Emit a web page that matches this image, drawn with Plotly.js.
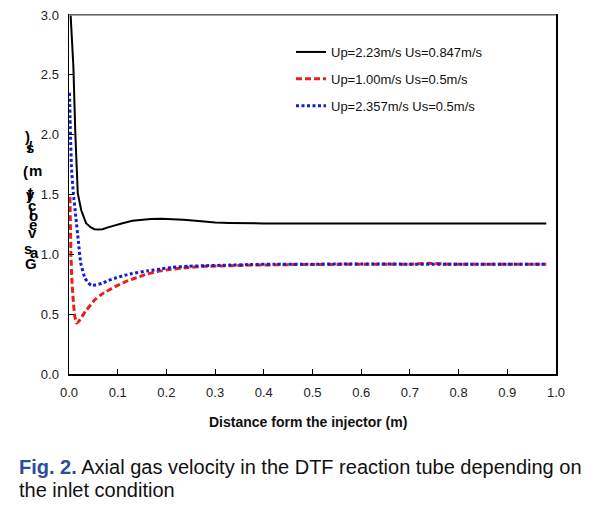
<!DOCTYPE html>
<html>
<head>
<meta charset="utf-8">
<script src="https://cdn.plot.ly/plotly-3.0.1.min.js"></script>
<style>html,body{margin:0;padding:0;background:#fff;}#chart{width:599px;height:509px;}</style>
</head>
<body>
<div id="chart"></div>
<script>
// Series: Up=2.23 m/s, Us=0.847 m/s
const xA = [0.002,0.004,0.006,0.009,0.013,0.018,0.025,0.035,0.045,0.052,0.06,0.069,0.08,0.096,0.11,0.13,0.15,0.168,0.19,0.212,0.235,0.26,0.28,0.30,0.33,0.36,0.40,0.5,0.6,0.7,0.8,0.9,0.98];
const yA = [3.1,2.95,2.80,2.57,2.01,1.51,1.37,1.26,1.225,1.21,1.208,1.21,1.225,1.245,1.26,1.28,1.29,1.295,1.297,1.295,1.29,1.28,1.272,1.265,1.262,1.26,1.258,1.258,1.258,1.258,1.258,1.258,1.258];
// Series: Up=1.00 m/s, Us=0.5 m/s
const xB = [0.002,0.003,0.004,0.006,0.009,0.012,0.016,0.022,0.033,0.043,0.053,0.065,0.081,0.097,0.115,0.135,0.156,0.18,0.21,0.245,0.28,0.33,0.376,0.42,0.46,0.5,0.55,0.6,0.65,0.7,0.74,0.78,0.82,0.86,0.9,0.94,0.98];
const yB = [1.48,1.2,1.0,0.78,0.6,0.48,0.425,0.45,0.52,0.57,0.62,0.66,0.70,0.735,0.77,0.80,0.83,0.855,0.875,0.89,0.90,0.905,0.91,0.912,0.914,0.915,0.916,0.917,0.917,0.918,0.925,0.918,0.917,0.917,0.918,0.918,0.918];
// Series: Up=2.357 m/s, Us=0.5 m/s
const xC = [0.001,0.003,0.005,0.009,0.014,0.019,0.024,0.033,0.04,0.046,0.055,0.067,0.08,0.094,0.11,0.13,0.163,0.19,0.21,0.245,0.28,0.33,0.376,0.42,0.5,0.6,0.7,0.8,0.9,0.98];
const yC = [2.35,2.01,1.73,1.51,1.31,1.12,0.93,0.80,0.76,0.74,0.745,0.757,0.78,0.80,0.82,0.84,0.863,0.878,0.89,0.90,0.905,0.91,0.915,0.917,0.918,0.919,0.918,0.918,0.918,0.918];

const seriesNames = ['Up=2.23m/s Us=0.847m/s','Up=1.00m/s Us=0.5m/s','Up=2.357m/s Us=0.5m/s'];
const xTitle = 'Distance form the injector (m)';
const yTitleChars = ['G','a','s','v','e','l','o','c','i','t','y','(','m','/','s',')'];
const captionFig = 'Fig. 2.';
const captionLine1 = 'Axial gas velocity in the DTF reaction tube depending on';
const captionLine2 = 'the inlet condition';

const FONT = '"Liberation Sans", Arial, sans-serif';
const L = 69, R = 556, T = 15, B = 374;
const px = x => (x - L) / (R - L);
const py = y => (B - y) / (B - T);

const traces = [
  {x: xA, y: yA, name: seriesNames[0], mode: 'lines', legendgroup: 'a',
   line: {color: '#000000', width: 2}},
  {x: xB, y: yB, name: seriesNames[1], mode: 'lines', legendgroup: 'b',
   line: {color: '#e8201c', width: 3, dash: '6px,3px', shape: 'spline', smoothing: 0.5}},
  {x: xC, y: yC, name: seriesNames[2], mode: 'lines', legendgroup: 'c',
   line: {color: '#1020d0', width: 3, dash: '3px,2.5px', shape: 'spline', smoothing: 0.5}}
];

// vertically stacked y-title glyph positions (pixels), as in the reference rendering
const yTitlePos = [[31,263],[34,252],[28,249],[32,233],[33,224],[31,213],[33,215],[32,205],[29,195],[30,193],[30,194],[25,172],[35,170],[30,146],[30,147],[27,136]];

const annotations = [
  {xref:'paper', yref:'paper', x: px(308), y: py(422), xanchor:'center', yanchor:'middle',
   text: '<b>' + xTitle + '</b>', showarrow:false, font:{family:FONT, size:14, color:'#111'}},
  {xref:'paper', yref:'paper', x: px(17), y: py(467), xanchor:'left', yanchor:'middle', align:'left',
   text: '<b><span style="color:#2a4d9c">' + captionFig + '</span></b> ' + captionLine1,
   showarrow:false, font:{family:FONT, size:20, color:'#111'}},
  {xref:'paper', yref:'paper', x: px(17), y: py(490), xanchor:'left', yanchor:'middle', align:'left',
   text: captionLine2, showarrow:false, font:{family:FONT, size:20, color:'#111'}}
];
yTitleChars.forEach((c, i) => {
  annotations.push({xref:'paper', yref:'paper', x: px(yTitlePos[i][0]), y: py(yTitlePos[i][1]),
    xanchor:'center', yanchor:'middle', text:'<b>' + c + '</b>', showarrow:false,
    font:{family:FONT, size:15, color:'#000'}});
});

const layout = {
  width: 599, height: 509,
  margin: {l: L, r: 599 - R, t: T, b: 509 - B, pad: 0},
  paper_bgcolor: '#ffffff', plot_bgcolor: '#ffffff',
  showlegend: true,
  legend: {x: px(291), y: py(37), xanchor:'left', yanchor:'top', bgcolor:'rgba(0,0,0,0)',
    font: {family: FONT, size: 13, color:'#111'}, tracegroupgap: 7, traceorder:'grouped'},
  xaxis: {range: [0, 1], dtick: 0.1, tick0: 0, tickformat: '.1f', ticks: 'inside', ticklen: 5,
    tickcolor:'#000', showline: true, linecolor: '#000', linewidth: 1.5, mirror: true,
    showgrid: false, zeroline: false, ticklabelstandoff: 6,
    tickfont: {family: FONT, size: 13, color: '#222'}},
  yaxis: {range: [0, 3], dtick: 0.5, tick0: 0, tickformat: '.1f', ticks: 'inside', ticklen: 5,
    tickcolor:'#000', showline: true, linecolor: '#000', linewidth: 1.5, mirror: true,
    showgrid: false, zeroline: false, ticklabelstandoff: 6,
    tickfont: {family: FONT, size: 13, color: '#222'}},
  shapes: [{type:'line', xref:'paper', yref:'paper', x0:0, x1:1, y0:1, y1:1, line:{color:'#888', width:1.5}, layer:'above'}],
  annotations: annotations
};

Plotly.newPlot('chart', traces, layout, {displayModeBar: false, staticPlot: true});
</script>
</body>
</html>
